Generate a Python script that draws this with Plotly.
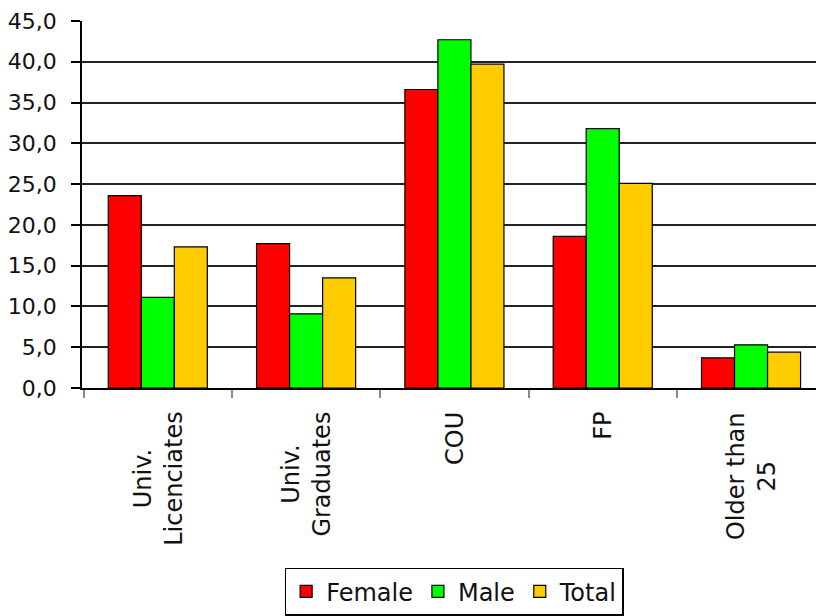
import plotly.graph_objects as go

categories = ["Univ. Licenciates", "Univ. Graduates", "COU", "FP", "Older than 25"]
label_text = ["Univ.<br>Licenciates", "Univ.<br>Graduates", "COU", "FP", "Older than<br>25"]
female = [23.6, 17.7, 36.6, 18.6, 3.7]
male = [11.1, 9.1, 42.7, 31.8, 5.3]
total = [17.3, 13.5, 39.7, 25.1, 4.4]

series = [("Female", female, "#FF0000"), ("Male", male, "#00FF00"), ("Total", total, "#FFCC00")]

FONT = "DejaVu Sans"

fig = go.Figure()
for name, vals, col in series:
    fig.add_trace(go.Bar(
        x=categories, y=vals, name=name,
        marker=dict(color=col, line=dict(color="#000000", width=1.2)),
    ))

for cat, txt in zip(categories, label_text):
    fig.add_annotation(
        x=cat, xref="x", y=-0.06, yref="paper",
        text=txt, textangle=-90, showarrow=False,
        xanchor="center", yanchor="top", align="center",
        font=dict(family=FONT, size=24, color="#111111"),
    )

fig.update_layout(
    width=816, height=616,
    margin=dict(l=82, r=0, t=21, b=228),
    paper_bgcolor="white", plot_bgcolor="white",
    barmode="group", bargap=0.332, bargroupgap=0,
    separators=", ",
    font=dict(family=FONT, size=22, color="#111111"),
    showlegend=True,
    legend=dict(
        orientation="h", x=0.507, xanchor="center", y=-0.49, yanchor="top",
        bordercolor="#000000", borderwidth=1.5, bgcolor="white",
        font=dict(family=FONT, size=24, color="#111111"),
        itemwidth=30, tracegroupgap=0,
    ),
    xaxis=dict(
        type="category", range=[-0.511, 4.438],
        showticklabels=False, showgrid=False,
        showline=True, linecolor="#000000", linewidth=1.5,
        ticks="outside", tickson="boundaries", ticklen=8, tickcolor="#888888", tickwidth=1.5,
    ),
    yaxis=dict(
        range=[0, 45], dtick=5, tick0=0, tickformat=".1f",
        showgrid=True, gridcolor="#222222", gridwidth=1.5,
        showline=True, linecolor="#000000", linewidth=1.5,
        ticks="outside", ticklen=9, tickcolor="#000000", tickwidth=1.5,
        ticklabelstandoff=10, zeroline=False,
        tickfont=dict(family=FONT, size=22, color="#111111"),
    ),
)

fig.write_html("out.html")
